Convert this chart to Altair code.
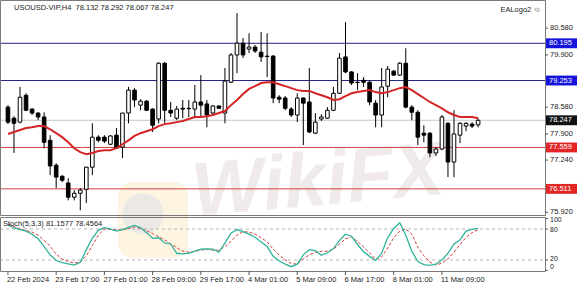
import altair as alt
import pandas as pd

# ---------------- data ----------------
opens = [78.58, 78.30, 78.20, 78.88, 78.53, 78.43, 78.33, 77.74, 77.11, 76.83,
         76.66, 76.30, 76.40, 76.50, 77.06, 77.82, 77.82, 77.64, 77.87, 77.57,
         78.43, 79.01, 78.63, 78.73, 78.53, 78.28, 79.69, 78.50, 78.30, 78.55,
         78.55, 78.53, 78.71, 78.66, 78.43, 78.61, 78.43, 79.21, 79.90, 80.20,
         80.05, 80.10, 79.97, 79.87, 79.87, 78.83, 78.81, 78.53, 78.38, 78.81,
         78.71, 77.92, 78.28, 78.30, 78.50, 78.93, 79.85, 79.47, 79.21, 79.26,
         79.21, 78.68, 78.38, 79.11, 79.49, 79.39, 79.69, 78.58, 78.45, 77.92,
         77.92, 77.42, 77.52, 78.17, 77.19, 77.87, 78.10, 78.15, 78.132]
highs = [78.63, 78.35, 79.09, 78.93, 78.55, 78.45, 78.45, 77.87, 77.16, 76.86,
         76.78, 76.48, 76.53, 77.07, 78.17, 77.87, 77.87, 77.87, 78.05, 78.43,
         79.09, 79.06, 78.78, 78.76, 78.55, 79.72, 79.72, 78.71, 78.61, 78.76,
         78.76, 79.14, 79.39, 78.76, 78.63, 78.61, 79.57, 79.95, 80.96, 80.33,
         80.45, 80.15, 80.48, 80.45, 79.90, 78.88, 78.86, 78.58, 78.93, 78.83,
         79.57, 78.43, 78.40, 78.58, 79.09, 79.95, 80.73, 79.49, 79.44, 79.34,
         79.26, 78.76, 79.57, 79.62, 79.52, 79.72, 80.07, 78.63, 78.50, 78.12,
         77.95, 77.57, 78.38, 78.20, 78.50, 78.20, 78.20, 78.20, 78.292]
lows = [78.15, 77.42, 78.17, 78.48, 78.38, 78.25, 77.54, 76.86, 76.53, 76.68,
        76.22, 76.22, 75.97, 76.15, 76.86, 77.69, 77.67, 77.62, 77.52, 77.29,
        78.17, 78.58, 78.50, 78.48, 77.95, 78.17, 78.17, 78.33, 78.25, 78.30,
        78.33, 78.30, 78.33, 78.07, 78.38, 78.53, 78.17, 79.19, 79.44, 79.82,
        79.95, 79.95, 79.72, 79.34, 78.68, 78.68, 78.50, 78.33, 78.20, 77.62,
        77.92, 77.90, 78.23, 78.28, 78.48, 78.91, 79.44, 79.14, 79.01, 79.09,
        78.63, 78.07, 78.07, 78.83, 79.37, 79.37, 78.55, 78.25, 77.62, 77.69,
        77.31, 77.34, 77.49, 76.81, 76.81, 77.67, 77.97, 78.05, 78.067]
closes = [78.20, 78.17, 78.83, 78.50, 78.43, 78.33, 77.69, 77.09, 76.81, 76.73,
          76.30, 76.40, 76.48, 77.06, 77.82, 77.74, 77.72, 77.85, 77.54, 78.43,
          79.01, 78.76, 78.73, 78.50, 78.12, 79.69, 78.50, 78.43, 78.53, 78.53,
          78.54, 78.71, 78.63, 78.38, 78.61, 78.55, 79.24, 79.90, 80.20, 79.90,
          80.10, 80.00, 79.85, 79.86, 78.81, 78.78, 78.55, 78.38, 78.81, 78.68,
          77.95, 78.20, 78.33, 78.50, 78.93, 79.82, 79.47, 79.19, 79.20, 79.21,
          78.71, 78.38, 79.09, 79.54, 79.39, 79.69, 78.58, 78.45, 77.82, 77.87,
          77.42, 77.52, 78.33, 77.19, 77.90, 78.17, 78.17, 78.10, 78.247]
ma_values = [77.90, 77.95, 78.00, 78.05, 78.07, 78.10, 78.10, 78.02, 77.92, 77.82,
             77.69, 77.54, 77.44, 77.39, 77.42, 77.47, 77.49, 77.49, 77.54, 77.64,
             77.74, 77.85, 77.92, 77.97, 78.02, 78.10, 78.15, 78.17, 78.20, 78.23,
             78.28, 78.33, 78.33, 78.35, 78.38, 78.43, 78.48, 78.63, 78.76, 78.91,
             79.04, 79.11, 79.19, 79.21, 79.21, 79.16, 79.11, 79.06, 79.01, 78.99,
             78.99, 78.93, 78.88, 78.83, 78.76, 78.78, 78.86, 78.93, 78.96, 78.99,
             79.01, 78.96, 78.93, 78.96, 79.01, 79.06, 79.09, 79.01, 78.91, 78.81,
             78.71, 78.63, 78.55, 78.45, 78.38, 78.33, 78.33, 78.33, 78.30]
stoch_main = [88, 82, 79, 76, 70, 61, 46, 30, 19, 15,
              12.5, 10, 15.5, 40, 62, 78, 82.5, 80, 76, 79,
              83, 87, 83, 73, 62, 63, 53, 51, 33, 32,
              33, 37, 41, 41.5, 41, 35, 53, 72, 79, 75,
              70, 64, 55, 46, 27, 18, 12, 7, 12, 30,
              40, 38, 29, 34, 42, 58, 70, 66, 50, 36,
              27, 19, 33, 63, 81, 92, 68, 37, 17, 11,
              9.5, 12, 20, 33, 51, 59, 76, 79.5, 81.1577]
stoch_signal = [90, 85, 80, 77, 74, 68, 58, 47, 31, 22,
                17, 14, 16, 28, 48, 68, 80, 79, 78.5, 78,
                81, 84, 81, 77, 71, 65, 59, 51, 44, 37,
                35.5, 36.6, 39, 40.5, 39, 39, 46, 56, 68, 75,
                74, 70, 63, 55, 41, 30, 20, 13, 12, 22,
                30, 35, 37, 37, 41, 51, 61, 65, 56, 45,
                34, 21, 26, 43, 63, 76, 80, 70, 45, 28,
                16, 10, 14, 22, 35, 50, 64, 73, 78.4564]

blue_levels = [80.195, 79.253]
red_levels = [77.559, 76.511]
current_price = 78.247
price_ticks = [80.580, 79.900, 78.580, 77.900, 77.240, 75.920]
stoch_levels = [80, 20]
stoch_tick_values = [100, 80, 20, 0]
time_label_bars = [1, 9, 17, 25, 33, 41, 49, 57, 65, 73]
time_labels = ["22 Feb 2024", "23 Feb 17:00", "27 Feb 01:00", "28 Feb 09:00",
               "29 Feb 17:00", "4 Mar 01:00", "5 Mar 09:00", "6 Mar 17:00",
               "8 Mar 01:00", "11 Mar 09:00"]
title_text = "USOUSD-VIP,H4\u00a0\u00a078.132 78.292 78.067 78.247"
stoch_title = "Stoch(5,3,3) 81.1577 78.4564"

# ---------------- tables ----------------
n = len(opens)
df = pd.DataFrame({
    "i": list(range(1, n + 1)),
    "open": opens, "high": highs, "low": lows, "close": closes,
    "ma": ma_values, "k": stoch_main, "d": stoch_signal,
})
df["fill"] = ["white" if c >= o else "black" for o, c in zip(opens, closes)]

levels = pd.DataFrame({
    "level": blue_levels + red_levels + [current_price],
    "kind": ["blue", "blue", "red", "red", "cur"],
})
levels["label"] = [f"{v:.3f}" for v in levels["level"]]
ticks_df = pd.DataFrame({"p": price_ticks, "label": [f"{v:.3f}" for v in price_ticks]})
time_df = pd.DataFrame({"i": time_label_bars, "label": time_labels})
stoch_df = pd.DataFrame({"s": stoch_levels})
stoch_ticks = pd.DataFrame({"s": stoch_tick_values})
one = pd.DataFrame({"a": [1]})

FONT = "Liberation Sans"
FS = 7.5
W, H = 545, 271

xscale = alt.Scale(domain=[0.51, 89.27], range=[0, W], nice=False, zero=False)
pscale = alt.Scale(domain=[75.85, 81.24], range=[215, 2], nice=False, zero=False)
sscale = alt.Scale(domain=[0, 100], range=[270.3, 218.7], nice=False, zero=False)


def X(f="i"):
    return alt.X(f"{f}:Q", scale=xscale, axis=None)


def PY(f):
    return alt.Y(f"{f}:Q", scale=pscale, axis=None)


def SY(f):
    return alt.Y(f"{f}:Q", scale=sscale, axis=None)


layers = []

# watermark
layers.append(alt.Chart(one).mark_rect(fill="#fdf4e2", cornerRadius=14).encode(
    x=alt.value(118), x2=alt.value(188), y=alt.value(182), y2=alt.value(258)))
layers.append(alt.Chart(one).mark_point(filled=True, shape="circle", size=1700,
                                        color="#ece8e6", opacity=1).encode(
    x=alt.value(143), y=alt.value(214)))
layers.append(alt.Chart(one).mark_text(
    text="WikiFX", font=FONT, fontSize=76, fontWeight="bold", fontStyle="italic",
    color="#f0eaea", angle=355, align="center", baseline="middle").encode(
    x=alt.value(318), y=alt.value(182)))

# stochastic levels and lines
layers.append(alt.Chart(stoch_df).mark_rule(color="#b4b4b4", strokeDash=[3, 3], strokeWidth=1).encode(
    y=SY("s"), x=alt.value(0), x2=alt.value(W)))
layers.append(alt.Chart(df).mark_line(color="#d23c3c", strokeDash=[3, 2], strokeWidth=1).encode(
    x=X(), y=SY("d")))
layers.append(alt.Chart(df).mark_line(color="#2fb39a", strokeWidth=1.3).encode(
    x=X(), y=SY("k")))

# horizontal price levels
layers.append(alt.Chart(levels).mark_rule(strokeWidth=1).encode(
    y=PY("level"), x=alt.value(0), x2=alt.value(W),
    color=alt.Color("kind:N", scale=alt.Scale(domain=["blue", "red", "cur"],
                                              range=["#23238c", "#d04040", "#c8c8c8"]),
                    legend=None)))

# candles
layers.append(alt.Chart(df).mark_rule(color="black", strokeWidth=1).encode(
    x=X(), y=PY("low"), y2="high:Q"))
layers.append(alt.Chart(df).mark_bar(width=3.6, stroke="black", strokeWidth=1).encode(
    x=X(), y=PY("open"), y2="close:Q",
    fill=alt.Fill("fill:N", scale=None)))

# moving average
layers.append(alt.Chart(df).mark_line(color="#d42424", strokeWidth=2).encode(
    x=X(), y=PY("ma")))

# frames
layers.append(alt.Chart(one).mark_rect(fillOpacity=0, stroke="#7a7a7a", strokeWidth=1).encode(
    x=alt.value(0.5), x2=alt.value(W + 0.5), y=alt.value(0.5), y2=alt.value(215.5)))
layers.append(alt.Chart(one).mark_rect(fillOpacity=0, stroke="#7a7a7a", strokeWidth=1).encode(
    x=alt.value(0.5), x2=alt.value(W + 0.5), y=alt.value(217.5), y2=alt.value(271.5)))

# right price axis
layers.append(alt.Chart(ticks_df).mark_rule(color="#555", strokeWidth=1).encode(
    y=PY("p"), x=alt.value(W), x2=alt.value(W + 3)))
layers.append(alt.Chart(ticks_df).mark_text(font=FONT, fontSize=FS, align="left",
                                            baseline="middle", color="#222").encode(
    y=PY("p"), x=alt.value(W + 5), text="label:N"))

# level boxes
boxes = alt.Chart(levels).transform_calculate(
    lo="datum.level - 0.125", hi="datum.level + 0.125")
layers.append(boxes.mark_rect().encode(
    y=PY("lo"), y2="hi:Q", x=alt.value(W + 1), x2=alt.value(577),
    fill=alt.Fill("kind:N", scale=alt.Scale(domain=["blue", "red", "cur"],
                                            range=["#1414dc", "#e22626", "#111111"]),
                  legend=None)))
layers.append(alt.Chart(levels).mark_text(font=FONT, fontSize=FS, align="left",
                                          baseline="middle", color="white").encode(
    y=PY("level"), x=alt.value(W + 4), text="label:N"))

# stochastic axis
layers.append(alt.Chart(stoch_ticks).mark_rule(color="#555", strokeWidth=1).encode(
    y=SY("s"), x=alt.value(W), x2=alt.value(W + 3)))
for val, shift in [(100, 1.5), (80, 1), (20, -1), (0, -3)]:
    layers.append(alt.Chart(stoch_ticks).transform_filter(f"datum.s == {val}").mark_text(
        font=FONT, fontSize=7, align="left", baseline="middle", color="#222", dy=shift).encode(
        y=SY("s"), x=alt.value(W + 5), text="s:N"))

# time axis
layers.append(alt.Chart(time_df).mark_rule(color="#555", strokeWidth=1).encode(
    x=X(), y=alt.value(271), y2=alt.value(275)))
layers.append(alt.Chart(time_df).mark_text(font=FONT, fontSize=FS, align="left",
                                           baseline="middle", color="#222", dx=-1).encode(
    x=X(), y=alt.value(280), text="label:N"))

# titles
layers.append(alt.Chart(one).mark_text(text=title_text, font=FONT, fontSize=FS, align="left",
                                       baseline="middle", color="#222").encode(
    x=alt.value(14), y=alt.value(8)))
layers.append(alt.Chart(one).mark_text(text="EALogo2 \u263a", font=FONT, fontSize=FS, align="right",
                                       baseline="middle", color="#222").encode(
    x=alt.value(541), y=alt.value(10)))
layers.append(alt.Chart(one).mark_text(text=stoch_title, font=FONT, fontSize=FS, align="left",
                                       baseline="middle", color="#222").encode(
    x=alt.value(3), y=alt.value(224)))

chart = alt.layer(*layers).resolve_scale(y="independent", fill="independent", color="independent").properties(
    width=W, height=H,
    padding={"left": 0, "top": 0, "right": 32, "bottom": 18},
    autosize="none",
    background="white",
).configure_view(stroke=None)

chart.save("out.html", embed_options={"renderer": "svg", "actions": False})
